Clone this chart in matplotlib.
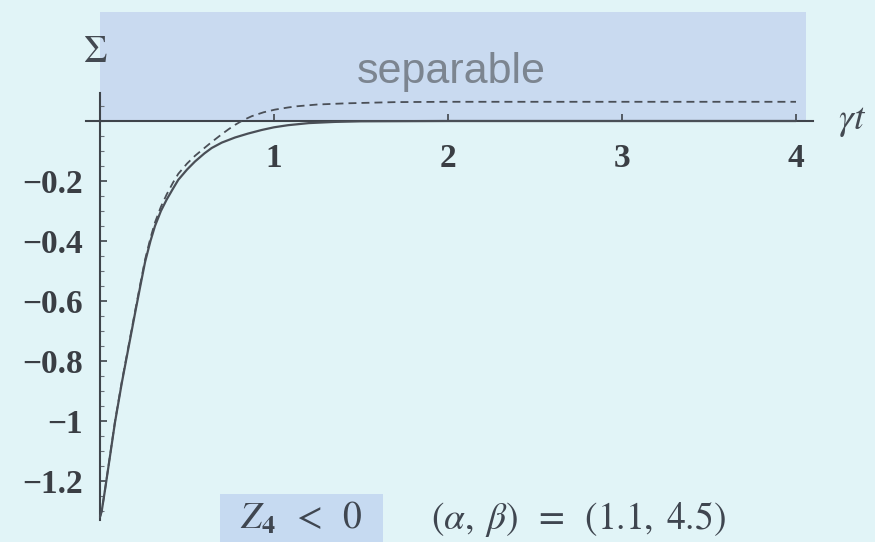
import matplotlib
matplotlib.use("Agg")
import matplotlib.pyplot as plt
from matplotlib.patches import Rectangle
import numpy as np

plt.rcParams["mathtext.fontset"] = "stix"

# Sigma(gamma t) for Z4 < 0, (alpha, beta) = (1.1, 4.5)
t_solid = [0.000, 0.010, 0.030, 0.057, 0.086, 0.125, 0.163, 0.200, 0.230,
           0.259, 0.290, 0.316, 0.350, 0.383, 0.420, 0.450, 0.500, 0.546,
           0.600, 0.642, 0.700, 0.776, 0.850, 0.929, 1.000, 1.080, 1.200,
           1.350, 1.500, 2.000, 3.000, 4.000]
sigma_solid = [-1.320, -1.300, -1.225, -1.119, -1.005, -0.874, -0.758, -0.645,
               -0.555, -0.470, -0.400, -0.350, -0.300, -0.262, -0.225, -0.196,
               -0.162, -0.135, -0.108, -0.090, -0.072, -0.055, -0.042, -0.030,
               -0.021, -0.014, -0.007, -0.003, -0.001, 0.000, 0.000, 0.000]

t_dashed = [0.000, 0.010, 0.030, 0.057, 0.086, 0.125, 0.163, 0.200, 0.230,
            0.259, 0.290, 0.316, 0.350, 0.383, 0.420, 0.450, 0.500, 0.546,
            0.600, 0.642, 0.700, 0.740, 0.776, 0.820, 0.872, 0.940, 1.006,
            1.080, 1.130, 1.250, 1.420, 1.700, 2.000, 3.000, 4.000]
sigma_dashed = [-1.320, -1.300, -1.224, -1.117, -1.002, -0.870, -0.753,
                -0.639, -0.548, -0.462, -0.390, -0.338, -0.286, -0.245,
                -0.205, -0.176, -0.142, -0.116, -0.090, -0.070, -0.044,
                -0.027, -0.013, 0.002, 0.016, 0.029, 0.038, 0.045, 0.049,
                0.055, 0.059, 0.063, 0.064, 0.064, 0.064]

x_ticks = [1, 2, 3, 4]
x_tick_labels = ["1", "2", "3", "4"]
y_ticks = [-1.2, -1.0, -0.8, -0.6, -0.4, -0.2]
y_tick_labels = ["\u22121.2", "\u22121", "\u22120.8", "\u22120.6", "\u22120.4", "\u22120.2"]

bg = "#e1f4f7"
shade = "#c9daf0"
ink = "#4a4f57"

fig = plt.figure(figsize=(8.75, 5.42), dpi=100, facecolor=bg)
ax = fig.add_axes([0, 0, 1, 1], facecolor=bg)
ax.set_xlim(-100 / 174, 775 / 174)
ax.set_ylim(-421 / 300, 121 / 300)

# separable region (Sigma > 0)
ax.add_patch(Rectangle((0, 0), 4.06, 0.363, facecolor=shade, edgecolor="none", zorder=0))
ax.text(2.02, 0.128, "separable", family="Liberation Sans", fontsize=31,
        color="#7c8590", ha="center", va="baseline", zorder=1)

ax.plot(t_solid, sigma_solid, color=ink, lw=1.6, solid_capstyle="round",
        solid_joinstyle="round", zorder=3)
ax.plot(t_dashed, sigma_dashed, color=ink, lw=1.3, ls=(0, (4.4, 2.8)), zorder=3)

for side in ("top", "right"):
    ax.spines[side].set_visible(False)
ax.spines["left"].set_position(("data", 0))
ax.spines["bottom"].set_position(("data", 0))
ax.spines["left"].set_bounds(-1.33, 0.093)
ax.spines["bottom"].set_bounds(-0.08, 4.1)
for side in ("left", "bottom"):
    ax.spines[side].set_color("#3f444b")
    ax.spines[side].set_linewidth(1.5)
    ax.spines[side].set_zorder(2)

ax.set_xticks(x_ticks)
ax.set_xticklabels(x_tick_labels)
ax.set_yticks(y_ticks)
ax.set_yticklabels(y_tick_labels)
ax.set_yticks(np.arange(-1.30, 0.10, 0.05), minor=True)
ax.tick_params(axis="both", which="major", direction="in", length=5, width=1.2,
               color="#3f444b", labelcolor="#3a3e44")
ax.tick_params(axis="y", which="minor", direction="in", length=3, width=0.8,
               color="#6a7078")
ax.tick_params(axis="x", which="major", pad=16)
ax.tick_params(axis="y", which="major", pad=12)
for lab in ax.get_xticklabels() + ax.get_yticklabels():
    lab.set_family("Liberation Serif")
    lab.set_fontsize(24)
    lab.set_fontweight("bold")

ax.text(-0.029, 0.23, r"$\Sigma$", fontsize=27, color="#444a52",
        ha="center", va="center")
ax.text(4.24, 0.0, r"$\gamma t$", fontsize=27, color="#444a52",
        ha="left", va="center")

# condition box at the bottom
ax.add_patch(Rectangle((0.69, -1.45), 0.936, 0.207, facecolor="#c6daf1",
                       edgecolor="none", zorder=1))
ax.text(1.155, -1.327, r"$Z_{\mathbf{4}} \;\;<\;\; 0$", fontsize=27, color="#3f4650",
        ha="center", va="center", zorder=2)
ax.text(2.75, -1.327, r"$(\alpha,\;\beta) \;\;=\;\; (1.1,\;4.5)$", fontsize=27,
        color="#3f4650", ha="center", va="center")

fig.savefig("out.png", dpi=100, facecolor=bg)
